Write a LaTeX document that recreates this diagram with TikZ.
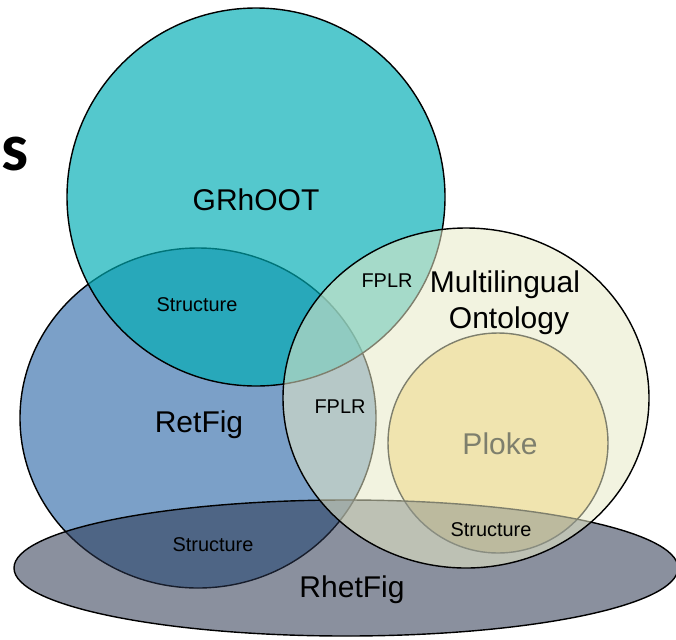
\documentclass[tikz,border=0pt]{standalone}
\usepackage{fontspec}
\setmainfont{Liberation Sans}
\newfontfamily\headfont{Carlito}
\definecolor{retfigblue}{RGB}{123,160,200}
\definecolor{grhootteal}{RGB}{0,173,180}
\definecolor{plokeyellow}{RGB}{251,222,146}
\definecolor{rhetfiggray}{RGB}{42,53,79}
\definecolor{ontologycream}{RGB}{231,233,199}
\begin{document}
\begin{tikzpicture}[x=0.03cm, y=-0.03cm,
  venn/.style={draw=black, line width=1.2pt},
  biglabel/.style={anchor=base, font=\fontsize{25.6}{30.7}\selectfont, align=center},
  smalllabel/.style={anchor=base, font=\fontsize{17}{20}\selectfont}]
% Set the frame (1 unit = 1 pixel of the slide)
\useasboundingbox (0,0) rectangle (676,639);
\clip (0,0) rectangle (676,639);

% Cut-off heading on the left
\node[anchor=base east, inner sep=0pt, font=\headfont\bfseries\fontsize{58}{60}\selectfont] (heading) at (29,170) {ps};

% Draw the sets, back to front
\draw[venn, fill=retfigblue] (198,418) ellipse [x radius=178, y radius=170];
\draw[venn, fill=grhootteal, fill opacity=0.67] (256,197) circle [radius=189];
\draw[venn, fill=plokeyellow] (498,443) circle [radius=110];
\node[biglabel] (ploke) at (500,454) {Ploke};
\draw[venn, fill=rhetfiggray, fill opacity=0.55] (346,568) ellipse [x radius=332, y radius=68];
\draw[venn, fill=ontologycream, fill opacity=0.55] (466,398) ellipse [x radius=183, y radius=170];

% Set names
\node[biglabel] (grhoot) at (256,210) {GRhOOT};
\node[biglabel] (retfig) at (199,432) {RetFig};
\node[biglabel] (rhetfig) at (352,597) {RhetFig};
\node[biglabel] (multilingual) at (505,292) {Multilingual};
\node[biglabel] (ontology) at (509,328) {Ontology};

% Overlap labels
\node[smalllabel] (structtop) at (197,311) {Structure};
\node[smalllabel] (structleft) at (213,551) {Structure};
\node[smalllabel] (structright) at (491,536) {Structure};
\node[smalllabel] (fplrtop) at (387,287) {FPLR};
\node[smalllabel] (fplrmid) at (340,413) {FPLR};
\end{tikzpicture}
\end{document}
